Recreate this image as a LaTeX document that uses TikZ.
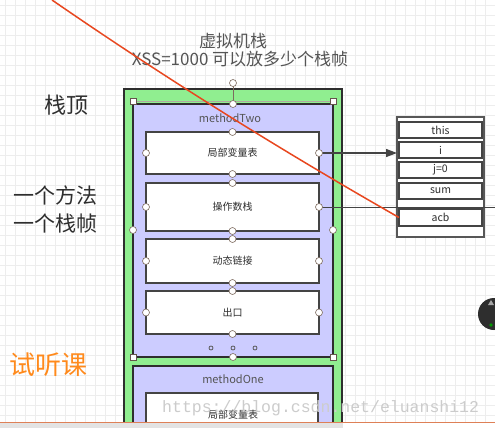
\documentclass[tikz,border=0pt]{standalone}
\usepackage{fontspec}
\setmainfont{Noto Sans CJK SC}
\newfontfamily\wmfont{Liberation Mono}
\usetikzlibrary{arrows.meta}
\definecolor{gridc}{HTML}{EDEDED}
\definecolor{greenf}{HTML}{90EE90}
\definecolor{bluef}{HTML}{CCCCFF}
\definecolor{darkb}{HTML}{2E2E2E}
\definecolor{boxb}{HTML}{444444}
\definecolor{titlec}{HTML}{555555}
\definecolor{redl}{HTML}{E8471F}
\definecolor{handc}{HTML}{7D6B5F}
\definecolor{orangec}{HTML}{FF8A1C}
\tikzset{
  gframe/.style={draw=darkb, fill=greenf, line width=1.5pt, inner sep=0, outer sep=0, anchor=north west},
  bframe/.style={draw=darkb, fill=bluef, line width=1.5pt, inner sep=0, outer sep=0, anchor=north west},
  partbox/.style={draw=boxb, fill=white, line width=1.4pt, inner sep=0, outer sep=0, anchor=north west,
    minimum width=173pt, font=\fontsize{10}{11}\selectfont, text=darkb},
  cellbox/.style={draw=boxb, fill=white, line width=1.3pt, inner sep=0, outer sep=0, anchor=north west,
    minimum width=83pt, minimum height=16pt, font=\fontsize{10.5}{12}\selectfont, text=darkb},
  handle/.style={circle, draw=handc, fill=white, minimum size=7pt, inner sep=0, line width=0.6pt},
  sqhandle/.style={rectangle, draw=handc!80!black, fill=white, minimum size=6pt, inner sep=0, line width=0.6pt},
  bigtxt/.style={font=\fontsize{21}{24}\selectfont, text=darkb},
  conn/.style={draw=boxb, line width=1.2pt},
  wmtext/.style={font=\wmfont\fontsize{16.5}{18}\selectfont, text=gray!40, anchor=west, inner sep=0},
}
\begin{document}
\begin{tikzpicture}[x=1pt,y=-1pt]
\useasboundingbox (0,0) rectangle (495,428);
\fill[white] (0,0) rectangle (495,428);
\begin{scope}
\clip (0,0) rectangle (495,421);
% grid
\foreach \g in {0,10,...,490} \draw[gridc, line width=0.5pt] (\g+5,0) -- (\g+5,428);
\foreach \g in {0,10,...,420} \draw[gridc, line width=0.5pt] (0,\g+5) -- (495,\g+5);
% titles
\node[font=\fontsize{17}{20}\selectfont, text=titlec] (t1) at (233,41) {虚拟机栈};
\node[font=\fontsize{17}{20}\selectfont, text=titlec] (t2) at (240,59) {XSS=1000 可以放多少个栈帧};
\node[bigtxt, font=\fontsize{22}{24}\selectfont] (top) at (66,105) {栈顶};
\node[bigtxt] (m1) at (55,195) {一个方法};
\node[bigtxt] (m2) at (55,224) {一个栈帧};
\node[font=\fontsize{26}{28}\selectfont, text=orangec, anchor=west, inner sep=0] (tk) at (9,365) {试听课};
% frames
\node[gframe, minimum width=218pt, minimum height=360pt] (g) at (124,89) {};
\node[bframe, minimum width=200pt, minimum height=253pt] (f2) at (133,104) {};
\node[text=titlec, font=\fontsize{11}{13}\selectfont] (f2l) at (230,118) {methodTwo};
\node[partbox, minimum height=42pt] (b1) at (146,132) {局部变量表};
\node[partbox, minimum height=48pt] (b2) at (146,183) {操作数栈};
\node[partbox, minimum height=44pt] (b3) at (146,239) {动态链接};
\node[partbox, minimum height=43pt] (b4) at (146,291) {出口};
\foreach \dx [count=\k] in {211,233,255}
  \node[circle, draw=darkb!80, fill=bluef, minimum size=4pt, inner sep=0, line width=0.8pt] (dot\k) at (\dx,348) {};
\node[bframe, minimum width=200pt, minimum height=80pt] (f1) at (133,366) {};
\node[text=titlec, font=\fontsize{11}{13}\selectfont] (f1l) at (233,379) {methodOne};
\node[partbox, minimum height=60pt, minimum width=172pt] (b5) at (146,393) {};
\node[font=\fontsize{10}{11}\selectfont, text=darkb] (b5l) at (233,415) {局部变量表};
% local variable table
\node[draw=boxb!90, fill=white, line width=1.5pt, inner sep=0, outer sep=0, anchor=north west,
      minimum width=87pt, minimum height=120pt] (lv) at (397,117) {};
\node[cellbox] (c1) at (399,122) {this};
\node[cellbox] (c2) at (399,142) {i};
\node[cellbox] (c3) at (399,162) {j=0};
\node[cellbox] (c4) at (399,183) {sum};
\node[cellbox, minimum height=17pt] (c5) at (399,209) {acb};
% connectors
\draw[conn, -{Triangle[length=11pt, width=8pt]}] (b1.east) -- (b1.east -| lv.west);
\coordinate (rimEdge) at (495,207);
\draw[conn, line width=1pt] (b2.east) -- (b2.east |- rimEdge) -- (rimEdge);
% selection handles
\coordinate (rot) at (233,83);
\draw[handc, line width=0.7pt] (rot) -- (233,101);
\draw[handc!60, line width=0.6pt] (133,101) -- (333,101);
\node[handle] (hrot) at (rot) {};
\node[sqhandle] (s1) at (133,101) {};
\node[sqhandle] (s2) at (333,101) {};
\node[sqhandle] (s3) at (133,357) {};
\node[sqhandle] (s4) at (333,357) {};
\node[handle] (hm1) at (233,104) {};
\node[handle] (hm2) at (133,230) {};
\node[handle] (hm3) at (333,230) {};
\node[handle] (hm4) at (233,357) {};
\foreach \b in {b1,b2,b3,b4} {
  \node[handle] at (\b.north) {};
  \node[handle] at (\b.south) {};
  \node[handle] at (\b.west) {};
  \node[handle] at (\b.east) {};
}
% red annotation line
\coordinate (r0) at (52,0);
\draw[redl, line width=1.5pt] (r0) .. controls (168,80) and (284,152) .. (c5.west);
% floating button
\fill[darkb] (494,314) circle (16);
\fill[gray!70] (488,305) -- (491,300) -- (494,305) -- cycle;
\fill[green!60!black] (491,325) circle (1.8);
% watermark
\node[wmtext] (wm) at (162,408) {https://blog.csdn.net/eluanshi12};
\end{scope}
% bottom edge of screenshot
\fill[gray!22] (0,423) rectangle (343,428);
\draw[redl!55!brown!80, line width=1pt] (0,422.5) -- (495,422.5);
\end{tikzpicture}
\end{document}
